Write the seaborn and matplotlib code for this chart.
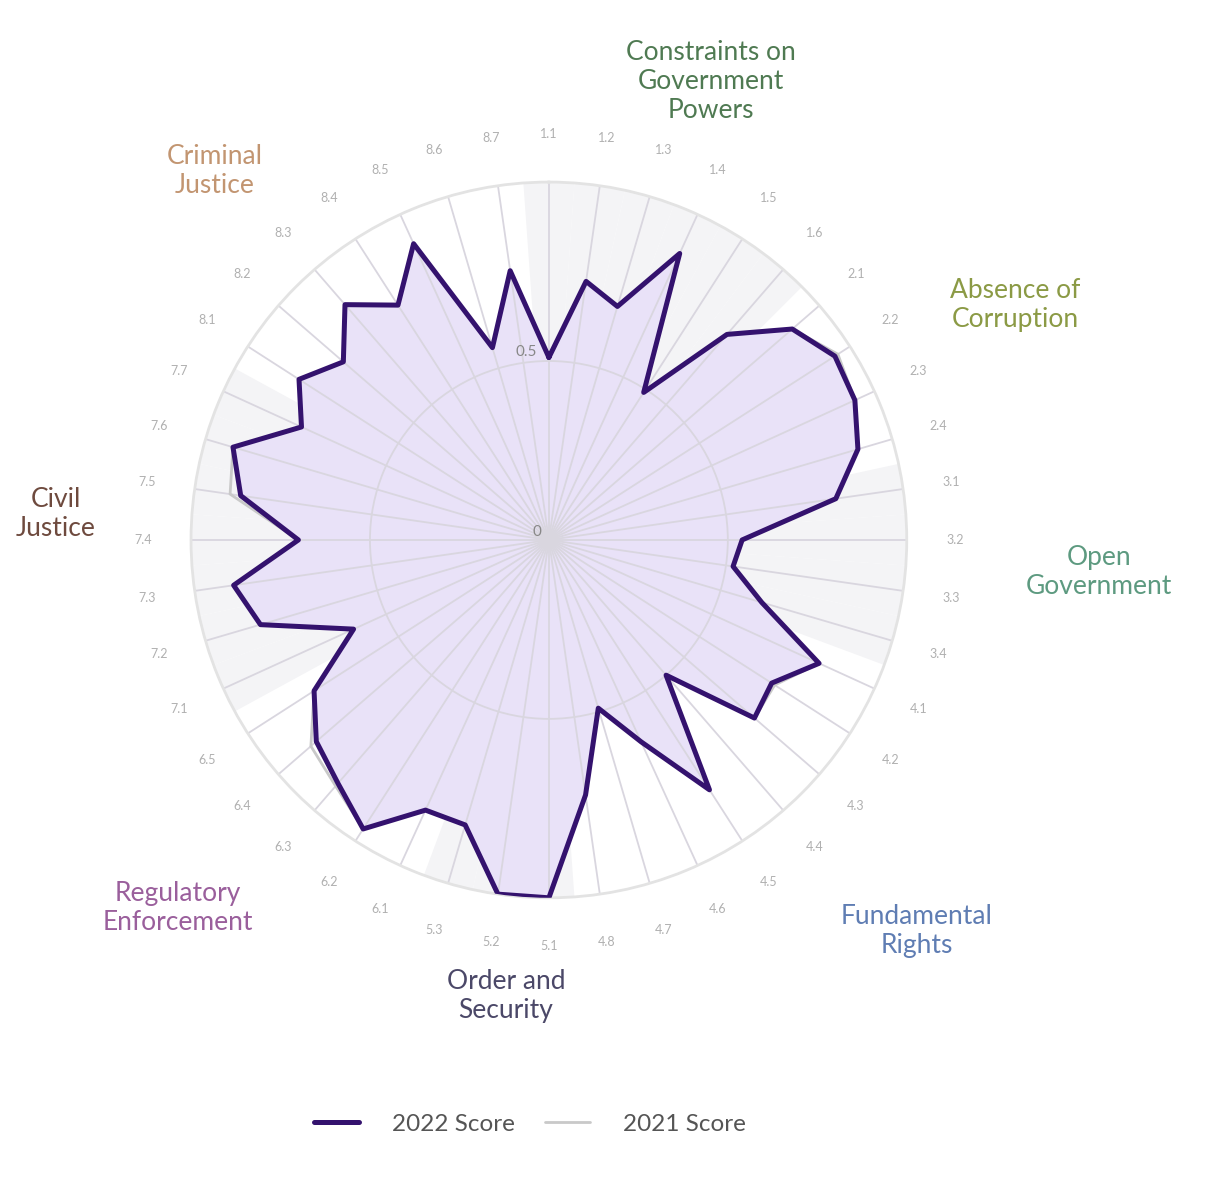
import matplotlib
matplotlib.use("Agg")
import matplotlib.pyplot as plt
from matplotlib.lines import Line2D
import numpy as np
import pandas as pd
import seaborn as sns

# ---------------------------------------------------------------------------
# Data: WJP-style sub-factor scores, clockwise from the top
# ---------------------------------------------------------------------------
factor_names = ["Constraints on\nGovernment\nPowers", "Absence of\nCorruption",
                "Open\nGovernment", "Fundamental\nRights", "Order and\nSecurity",
                "Regulatory\nEnforcement", "Civil\nJustice", "Criminal\nJustice"]
factor_colors = ["#4f7a52", "#8b9a45", "#5d9a80", "#5f7db3",
                 "#4b4868", "#9a5f9c", "#6e4a3e", "#c29571"]
n_sub = [6, 4, 4, 8, 3, 5, 7, 7]

sub_labels = [f"{f + 1}.{k + 1}" for f, n in enumerate(n_sub) for k in range(n)]

score_2022 = [0.51, 0.73, 0.68, 0.88, 0.49, 0.76,
              0.90, 0.95, 0.94, 0.90,
              0.81, 0.54, 0.52, 0.62,
              0.83, 0.74, 0.76, 0.50, 0.83, 0.62, 0.49, 0.72,
              1.00, 1.00, 0.83,
              0.83, 0.96, 0.90, 0.86, 0.78,
              0.60, 0.84, 0.89, 0.70, 0.87, 0.92, 0.76,
              0.83, 0.76, 0.87, 0.78, 0.91, 0.56, 0.76]
score_2021 = [0.51, 0.73, 0.68, 0.88, 0.49, 0.76,
              0.90, 0.96, 0.94, 0.90,
              0.81, 0.54, 0.52, 0.62,
              0.83, 0.75, 0.76, 0.50, 0.83, 0.62, 0.49, 0.72,
              1.00, 1.00, 0.83,
              0.83, 0.96, 0.91, 0.88, 0.78,
              0.60, 0.84, 0.89, 0.70, 0.90, 0.92, 0.76,
              0.83, 0.76, 0.87, 0.78, 0.91, 0.56, 0.76]

# label placement (angle in degrees clockwise from top, radius in data units)
factor_label_pos = [(19.5, 1.36), (63.3, 1.46), (93.3, 1.54), (136.7, 1.50),
                    (185.4, 1.28), (225.2, 1.46), (273.0, 1.38), (317.8, 1.39)]

# ---------------------------------------------------------------------------
sns.set_theme(style="white")
plt.rcParams["font.family"] = ["Lato", "DejaVu Sans"]

N = len(sub_labels)
step = 2 * np.pi / N
theta = np.arange(N) * step

df = pd.DataFrame({
    "theta": np.concatenate([theta, theta[:1], theta, theta[:1]]),
    "score": score_2022 + score_2022[:1] + score_2021 + score_2021[:1],
    "year": ["2022 Score"] * (N + 1) + ["2021 Score"] * (N + 1),
})

fig = plt.figure(figsize=(12.09, 12.0), dpi=100)
ax = fig.add_axes([0.158, 0.2517, 0.592, 0.5967], projection="polar")
ax.set_theta_zero_location("N")
ax.set_theta_direction(-1)
ax.set_ylim(0, 1)

# alternating factor shading (very faint)
fac_idx = np.repeat(np.arange(len(n_sub)), n_sub)
shade = fac_idx % 2 == 0
ax.bar(theta[shade], 1.0, width=step, color="#f4f4f6", edgecolor="none",
       zorder=0)

ax.set_xticks(theta)
ax.set_xticklabels([])
ax.set_yticks([0.5])
ax.set_yticklabels([])
ax.set_axisbelow(True)
ax.grid(color="#d9d6df", lw=1.3)
ax.spines["polar"].set_color("#e3e3e3")
ax.spines["polar"].set_linewidth(2)

# opaque lavender fill below the grid lines
ax.fill(np.append(theta, theta[0]), score_2022 + score_2022[:1],
        color="#e9e2f8", zorder=0.2, lw=0)

sns.lineplot(data=df[df.year == "2021 Score"], x="theta", y="score",
             sort=False, estimator=None, color="#c9c9c9", lw=2,
             ax=ax, zorder=2, legend=False)
sns.lineplot(data=df[df.year == "2022 Score"], x="theta", y="score",
             sort=False, estimator=None, color="#34126e", lw=3.6,
             ax=ax, zorder=3, legend=False)
ax.set_xlabel("")
ax.set_ylabel("")

# sub-factor labels
for t, lab in zip(theta, sub_labels):
    ax.text(t, 1.135, lab, ha="center", va="center", fontsize=9,
            color="#b0b0b0", clip_on=False)

# radial labels
ax.text(np.deg2rad(353), 0.53, "0.5", ha="center", va="center",
        fontsize=11, color="#888888")
ax.text(np.deg2rad(305), 0.04, "0", ha="center", va="center",
        fontsize=11, color="#888888")

# factor labels
for name, col, (ang, rad) in zip(factor_names, factor_colors, factor_label_pos):
    ax.text(np.deg2rad(ang), rad, name, ha="center", va="center",
            fontsize=19, color=col, linespacing=1.2, clip_on=False)

handles = [Line2D([], [], color="#34126e", lw=3.6),
           Line2D([], [], color="#c9c9c9", lw=2)]
fig.legend(handles, ["2022 Score", "2021 Score"], loc="center",
           bbox_to_anchor=(530 / 1209, 1 - 1124 / 1200), ncol=2,
           frameon=False, fontsize=17.5, handlelength=1.85, handletextpad=1.35,
           columnspacing=1.25, labelcolor="#555555")

fig.savefig("out.png", dpi=100, facecolor="white")
